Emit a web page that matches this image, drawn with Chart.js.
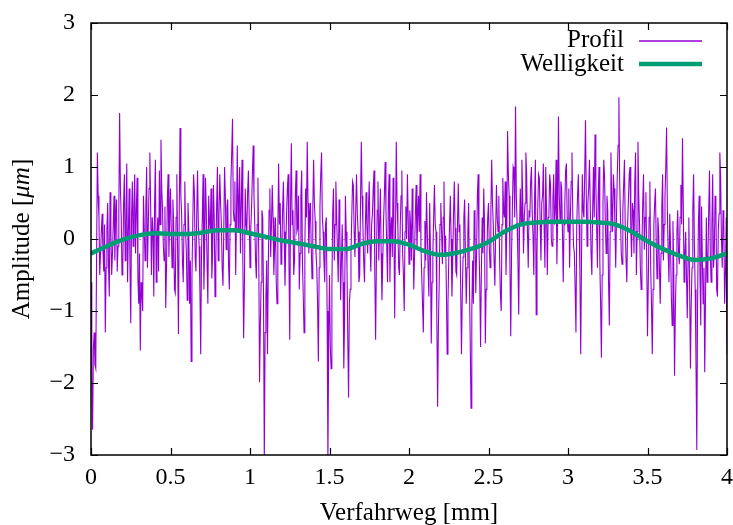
<!DOCTYPE html>
<html>
<head>
<meta charset="utf-8">
<script src="https://cdn.jsdelivr.net/npm/chart.js@4.4.0/dist/chart.umd.min.js"></script>
<style>
  html, body { margin: 0; padding: 0; background: #fff; }
  #wrap { width: 733px; height: 525px; }
</style>
</head>
<body>
<div id="wrap"><canvas id="chart" width="733" height="525"></canvas></div>
<script>
// --- Daten ---
const profilSchritt = 0.005; // mm zwischen zwei Messpunkten
const profilWerte = [
  -0.6, -1.9, -2.65, -1.5, -1.3, -1.75, -1.8, -0.3, 1.2, 0.6, 0.3, -0.5, -0.2, 0.1, 0.35, -0.15, -0.45, 0.2, -1.3, -0.4,
  0.15, 0.5, -0.35, -0.8, 0.65, 0.1, -0.5, -0.2, 0.2, 0.6, -0.3, 0.3, 0.55, -0.45, -0.1, 0.4, 1.75, 0.7, 0.3, -0.5,
  -0.4, 0.5, 0.9, -0.3, 0.25, 1.05, -0.6, 0.1, 0.7, -0.35, -1.17, 0.3, 0.8, -0.1, 0.45, 0.9, -0.2, 0.4, 0.85, -0.55,
  -0.9, -0.2, -1.55, -0.6, -0.75, -1.0, 0.6, 0.15, -0.3, 0.45, 1.0, -0.4, 0.15, 0.7, 1.2, 0.5, -0.5, 0.3, 0.1, -0.8,
  0.5, 1.1, -0.6, 0.0, 0.3, -0.45, 0.95, 0.2, 1.38, 0.7, 0.4, -0.1, -0.3, 0.45, -0.96, -0.4, 0.55, 0.9, -0.25, 0.3,
  0.7, 0.1, -0.4, 0.55, 0.2, -0.7, -0.75, 0.3, 0.9, -0.2, -1.32, 0.4, 1.54, 0.6, 0.35, -0.3, -0.6, 0.2, 0.8, 0.1,
  -0.2, -0.85, 0.5, 0.15, -0.9, -0.3, -1.7, -0.5, 0.2, 0.9, 0.65, -0.25, -0.45, 0.35, 0.95, 0.2, -0.1, -0.7, -1.6, -0.2,
  0.3, 0.9, -0.7, -0.1, 0.85, 0.4, -0.35, -0.9, 0.6, 0.25, 0.1, 0.7, -0.55, -0.2, 0.75, 0.3, -0.8, -0.3, 0.45, 1.0,
  -0.3, 0.35, 0.9, 0.5, 0.2, -0.4, -0.65, 0.1, 1.0, 0.6, -0.15, 0.45, 0.55, -0.35, -0.7, 0.2, 0.8, 1.2, 1.67, 0.4,
  0.25, 0.8, -0.5, 0.3, 1.3, 0.1, 0.6, 1.0, -0.2, 0.5, 1.1, -0.3, -1.38, -0.6, 0.7, 0.2, 0.1, 0.65, 0.95, 0.3,
  -0.4, 0.15, 0.45, 0.9, 1.3, 0.6, 0.2, -0.3, -0.55, 0.2, 0.85, -0.2, -1.99, -1.2, -0.6, 0.4, 0.3, -0.8, -3.1, -1.3,
  -0.8, -0.3, -1.6, -0.4, 0.4, 0.7, -0.25, 0.2, 0.75, 0.3, -0.5, -0.1, 0.3, -0.6, -0.9, 0.1, 1.05, 0.2, 0.5, -0.35,
  -0.2, 0.4, 0.8, 0.1, -0.65, -0.1, 0.35, 0.7, 0.9, -0.3, -1.4, 0.5, 1.33, 0.2, 0.4, -0.5, -0.3, 0.6, 0.95, 0.1,
  0.15, 0.6, -0.7, -0.2, 0.6, 0.95, -0.35, -0.8, -1.3, -0.1, 0.7, 0.3, 1.35, 0.5, -0.2, 0.3, 0.5, -0.1, -0.55, 0.4,
  1.1, 0.5, 0.25, -0.2, -0.4, -0.9, -1.7, -0.4, 0.45, 0.9, 1.2, 0.3, 0.1, -0.3, -0.6, 0.2, 0.3, -1.0, -3.1, -1.4,
  -0.5, -1.5, -1.8, -0.7, 0.35, 0.7, -0.3, 0.2, 0.8, 0.3, -0.15, -0.6, 0.55, 0.1, -0.85, -0.3, 0.2, -0.6, -1.8, -1.1,
  0.6, 0.1, -0.4, -1.4, -2.2, -0.9, -0.7, -0.2, 0.3, 0.8, 0.75, 0.1, -0.25, 0.4, 0.9, 0.35, 0.1, -0.6, -0.5, 0.5,
  1.35, 0.6, 0.2, -0.3, -0.6, 0.1, 0.65, 0.2, -0.2, 0.45, 0.8, -0.1, -0.45, 0.2, 0.35, 0.7, 0.95, -0.5, -1.4, -0.3,
  0.4, 0.8, -0.3, 0.2, 0.7, -0.2, -0.85, -0.3, 0.25, 0.6, 1.07, 0.4, -0.1, -0.6, 0.55, 0.9, -0.6, 0.1, 0.3, -0.25,
  0.85, 0.2, -1.1, 0.1, 1.35, 0.5, 0.15, -0.4, -0.5, 0.2, 0.6, 0.95, -0.2, -0.5, -1.0, 0.1, 0.45, 0.0, 0.9, 0.3,
  -0.35, 0.4, 0.2, -0.3, 0.7, 0.1, -0.7, -0.2, 0.35, 0.75, -0.15, 0.3, 0.6, 0.1, 0.9, -0.1, -0.5, -0.9, -1.3, -0.4,
  0.25, -0.3, 0.65, 0.1, -0.4, -0.8, 0.5, -0.2, -1.45, -0.6, -0.2, 0.3, 0.75, 0.2, 0.1, -1.1, -2.33, -1.2, -0.6, 0.2,
  0.5, 0.1, -0.35, 0.3, 0.8, -0.25, 0.05, -0.7, -1.6, -0.9, -0.3, 0.2, 0.6, 0.0, -0.8, -0.3, 0.35, 0.8, 0.15, -0.45,
  -0.5, 0.2, 0.77, 0.1, 0.2, -0.7, -1.6, -0.8, -0.25, 0.3, 0.55, -0.2, -0.9, -0.4, 0.1, 0.5, -0.6, -1.4, -2.35, -1.0,
  -0.3, -0.9, 0.4, 0.1, -0.75, -0.2, 0.6, 0.9, -0.1, -0.6, -1.5, -0.5, 0.3, -0.2, 0.7, 0.2, -1.45, -0.7, -0.2, 0.3,
  0.5, -0.1, -0.4, 0.4, 1.1, 0.5, 0.2, -0.3, -0.65, 0.1, 0.75, 0.3, 0.1, 0.6, -0.3, -0.8, -1.0, 0.2, 0.85, 0.4,
  0.3, 0.8, -0.5, 0.1, 1.5, 0.9, 0.6, -0.4, -1.35, -0.2, 0.4, 1.0, 0.95, 0.3, 1.84, 0.6, 0.2, -0.3, -1.05, 0.1,
  0.7, 0.2, 1.1, 0.6, -0.2, 0.3, 0.5, 1.2, 0.9, 0.1, -0.4, 0.4, 0.3, 0.8, 1.0, 0.35, 0.05, -0.5, 0.6, 1.1,
  -1.05, -0.2, 0.45, 0.9, 0.85, 0.2, -0.3, 0.5, 0.6, 1.05, 0.15, -0.4, 1.0, 0.4, -0.5, 0.3, 0.35, 0.9, 0.75, 0.0,
  -0.1, 0.55, 0.9, 0.2, 0.4, 1.1, -0.35, 0.3, 1.7, 0.6, 0.25, 0.8, 0.7, 0.1, -0.6, 0.2, 0.5, 0.95, 1.05, 0.3,
  0.1, 0.7, -0.4, 0.3, 0.8, 1.2, 0.35, -0.1, -0.2, -0.7, -1.3, 0.2, 0.6, 0.9, 0.2, -0.5, -1.6, -0.3, 0.9, 0.4,
  0.3, 0.9, 1.65, 0.6, -0.1, 0.5, 0.7, 1.1, 0.45, -0.2, -0.5, 0.4, 1.0, 0.3, 1.45, 0.8, 0.2, -0.4, 0.6, 1.0,
  -0.3, -0.9, -1.65, -0.5, 0.5, 1.1, 0.85, 0.2, -0.2, 0.6, 0.4, -0.6, -1.2, 0.1, 1.2, 0.5, 0.1, 0.9, 0.7, 0.2,
  -0.4, 0.3, 0.9, 1.3, 1.97, 0.8, 0.3, -0.2, -0.35, 0.4, 0.75, 1.1, 0.15, -0.3, -0.6, 0.2, 0.55, 0.9, 1.0, 0.1,
  -0.25, 0.5, 0.4, -0.2, 0.8, 1.2, -0.5, 0.1, 1.35, 0.6, 0.2, -0.4, -0.7, -0.1, 0.5, 0.9, -0.15, 0.3, 0.65, -0.3,
  -1.35, -0.6, 0.3, 0.8, -0.4, -0.9, -1.6, -0.7, 0.2, 0.5, 0.7, -0.1, -0.55, 0.3, 0.1, -0.4, -0.9, -0.2, 0.45, 0.9,
  -0.3, 0.2, 0.6, 1.0, 1.55, 0.4, -0.2, -0.6, 0.35, -0.1, -0.8, -1.2, 0.25, -0.4, -1.9, -1.0, -0.5, 0.1, 0.4, -0.2,
  -0.35, 0.3, 0.75, 0.2, 1.4, 0.5, -0.6, -0.2, 0.1, -0.5, -1.1, -0.3, 0.3, -0.7, -1.8, -0.9, -0.4, 0.4, 0.9, -0.1,
  -0.7, -1.7, -2.93, -0.9, 0.2, 0.6, -0.5, -1.2, 0.45, -0.3, -0.9, -0.4, -1.85, -0.8, 0.3, -0.6, -0.3, 0.4, 0.95, -0.2,
  -0.6, 0.2, 0.9, -0.4, -0.2, 0.6, 0.5, -0.7, -0.8, 0.1, 0.35, 1.2, 0.85, 0.0, -0.4, 0.4, 0.2, -0.9, -0.5, 0.3,
  -1.6
];

const welligkeitX = [
  0.0, 0.1, 0.2, 0.3, 0.4, 0.5, 0.6, 0.7, 0.8, 0.9,
  1.0, 1.1, 1.2, 1.3, 1.4, 1.5, 1.6, 1.7, 1.8, 1.9,
  2.0, 2.1, 2.2, 2.3, 2.4, 2.5, 2.6, 2.7, 2.8, 2.9,
  3.0, 3.1, 3.2, 3.3, 3.4, 3.5, 3.6, 3.7, 3.8, 3.9, 4.0
];
const welligkeitY = [
  -0.2, -0.1, -0.01, 0.05, 0.08, 0.07, 0.07, 0.09, 0.12, 0.12,
  0.08, 0.03, -0.02, -0.06, -0.1, -0.14, -0.14, -0.07, -0.03, -0.03,
  -0.08, -0.17, -0.22, -0.19, -0.13, -0.04, 0.1, 0.2, 0.23, 0.24,
  0.24, 0.24, 0.23, 0.2, 0.1, -0.03, -0.14, -0.23, -0.29, -0.27, -0.2
];

const xTicks = [0, 0.5, 1, 1.5, 2, 2.5, 3, 3.5, 4];
const yTicks = [-3, -2, -1, 0, 1, 2, 3];

const legendeNamen = ['Profil', 'Welligkeit'];
const farbeProfil = '#9400d3';
const farbeWelligkeit = '#009e73';

const SERIF = '"Liberation Serif", "Times New Roman", serif';

// --- Rahmen, Ticks nach innen, Nulllinie, Legende, Achsentitel ---
const gnuplotStil = {
  id: 'gnuplotStil',
  beforeDatasetsDraw(chart) {
    const { ctx, chartArea: a, scales: { y } } = chart;
    const y0 = Math.round(y.getPixelForValue(0)) + 0.5;
    ctx.save();
    ctx.strokeStyle = '#a0a0a0';
    ctx.lineWidth = 1;
    ctx.setLineDash([2, 4]);
    ctx.beginPath();
    ctx.moveTo(a.left, y0);
    ctx.lineTo(a.right, y0);
    ctx.stroke();
    ctx.restore();
  },
  afterDraw(chart) {
    const { ctx, chartArea: a, scales: { x, y } } = chart;
    ctx.save();

    // Ticks (innen, auf allen vier Seiten)
    ctx.strokeStyle = '#000';
    ctx.lineWidth = 1.2;
    const len = 7;
    ctx.beginPath();
    xTicks.forEach(v => {
      const px = Math.round(x.getPixelForValue(v)) + 0.5;
      ctx.moveTo(px, a.bottom); ctx.lineTo(px, a.bottom - len);
      ctx.moveTo(px, a.top); ctx.lineTo(px, a.top + len);
    });
    yTicks.forEach(v => {
      const py = Math.round(y.getPixelForValue(v)) + 0.5;
      ctx.moveTo(a.left, py); ctx.lineTo(a.left + len, py);
      ctx.moveTo(a.right, py); ctx.lineTo(a.right - len, py);
    });
    ctx.stroke();

    // Rahmen
    ctx.lineWidth = 1.5;
    ctx.strokeRect(a.left, a.top, a.right - a.left, a.bottom - a.top);

    // Legende
    ctx.font = '25px ' + SERIF;
    ctx.fillStyle = '#000';
    ctx.textAlign = 'right';
    ctx.textBaseline = 'alphabetic';
    const legX = 624;
    ctx.fillText(legendeNamen[0], legX, 47);
    ctx.fillText(legendeNamen[1], legX, 71);
    ctx.lineCap = 'butt';
    ctx.strokeStyle = farbeProfil;
    ctx.lineWidth = 1.3;
    ctx.beginPath(); ctx.moveTo(639, 41); ctx.lineTo(702, 41); ctx.stroke();
    ctx.strokeStyle = farbeWelligkeit;
    ctx.lineWidth = 4.5;
    ctx.beginPath(); ctx.moveTo(639, 64); ctx.lineTo(702, 64); ctx.stroke();

    // x-Achsentitel
    ctx.textAlign = 'center';
    ctx.fillText('Verfahrweg [mm]', (a.left + a.right) / 2, 520);

    // y-Achsentitel, "µm" kursiv
    const teile = [
      { t: 'Amplitude [', f: '25px ' + SERIF },
      { t: 'μm', f: 'italic 25px ' + SERIF },
      { t: ']', f: '25px ' + SERIF }
    ];
    let gesamt = 0;
    teile.forEach(p => { ctx.font = p.f; p.w = ctx.measureText(p.t).width; gesamt += p.w; });
    ctx.translate(29, (a.top + a.bottom) / 2);
    ctx.rotate(-Math.PI / 2);
    ctx.textAlign = 'left';
    let pos = -gesamt / 2;
    teile.forEach(p => { ctx.font = p.f; ctx.fillText(p.t, pos, 0); pos += p.w; });

    ctx.restore();
  }
};

new Chart(document.getElementById('chart'), {
  type: 'line',
  data: {
    datasets: [
      {
        label: legendeNamen[0],
        data: profilWerte.map((v, i) => ({ x: i * profilSchritt, y: v })),
        borderColor: farbeProfil,
        borderWidth: 1.1,
        pointRadius: 0,
        tension: 0,
        order: 2
      },
      {
        label: legendeNamen[1],
        data: welligkeitX.map((v, i) => ({ x: v, y: welligkeitY[i] })),
        borderColor: farbeWelligkeit,
        borderWidth: 4.5,
        pointRadius: 0,
        cubicInterpolationMode: 'monotone',
        order: 1
      }
    ]
  },
  options: {
    responsive: false,
    devicePixelRatio: 1,
    animation: false,
    layout: { padding: { top: 23, right: 6, left: 0, bottom: 0 } },
    plugins: {
      legend: { display: false },
      tooltip: { enabled: false }
    },
    scales: {
      x: {
        type: 'linear',
        min: 0,
        max: 4,
        grid: { display: false, drawTicks: false },
        border: { display: false },
        afterBuildTicks: s => { s.ticks = xTicks.map(v => ({ value: v })); },
        afterFit: s => { s.height = 70; s.paddingLeft = 0; s.paddingRight = 0; s.paddingTop = 0; s.paddingBottom = 0; },
        ticks: {
          padding: 8,
          color: '#000',
          maxRotation: 0,
          autoSkip: false,
          font: { family: SERIF, size: 24 },
          callback: v => String(v)
        }
      },
      y: {
        min: -3,
        max: 3,
        grid: { display: false, drawTicks: false },
        border: { display: false },
        afterBuildTicks: s => { s.ticks = yTicks.map(v => ({ value: v })); },
        afterFit: s => { s.width = 91; s.paddingTop = 0; s.paddingBottom = 0; s.paddingLeft = 0; s.paddingRight = 0; },
        ticks: {
          padding: 16,
          color: '#000',
          font: { family: SERIF, size: 24 },
          callback: v => (v < 0 ? '\u2212' + Math.abs(v) : String(v))
        }
      }
    }
  },
  plugins: [gnuplotStil]
});
</script>
</body>
</html>
